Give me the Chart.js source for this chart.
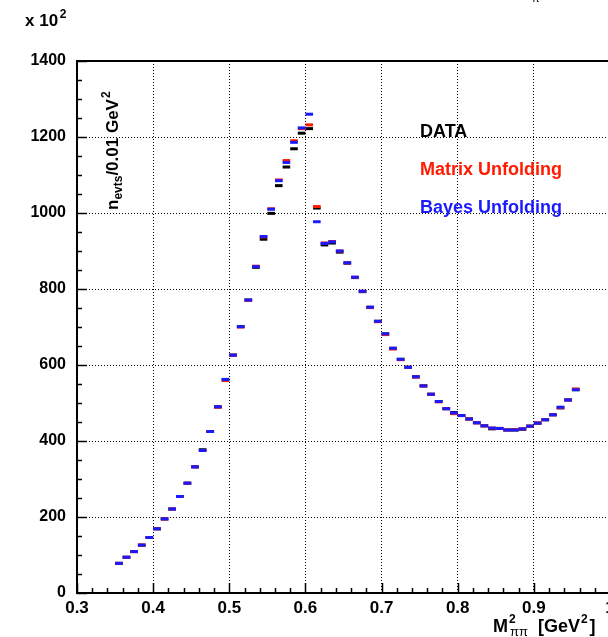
<!DOCTYPE html>
<html><head><meta charset="utf-8">
<script src="https://cdn.jsdelivr.net/npm/chart.js@4.4.0/dist/chart.umd.min.js"></script>
<style>
html,body{margin:0;padding:0;background:#fff;overflow:hidden;width:608px;height:637px}
canvas{display:block}
</style></head>
<body>
<canvas id="c" width="620" height="637" style="width:620px;height:637px"></canvas>
<script>
// ---- data (values in units of 10^2 events per 0.01 GeV^2) ----
const binCenters = [0.355,0.365,0.375,0.385,0.395,0.405,0.415,0.425,0.435,0.445,
  0.455,0.465,0.475,0.485,0.495,0.505,0.515,0.525,0.535,0.545,
  0.555,0.565,0.575,0.585,0.595,0.605,0.615,0.625,0.635,0.645,
  0.655,0.665,0.675,0.685,0.695,0.705,0.715,0.725,0.735,0.745,
  0.755,0.765,0.775,0.785,0.795,0.805,0.815,0.825,0.835,0.845,
  0.855,0.865,0.875,0.885,0.895,0.905,0.915,0.925,0.935,0.945,0.955];
const dataValues = [78,94,109,126,146,169,195,221,254,289,
  332,377,425,490,562,626,701,771,857,931,
  999,1072,1121,1169,1210,1222,1013,916,921,897,
  868,830,793,752,715,682,644,615,594,569,
  545,523,504,485,475,467,458,448,440,432,
  433,429,429,431,439,447,456,469,487,508,535];
const matrixValues = [78,94,109,126,146,169,195,221,254,289,
  332,375,425,489,559,626,700,770,860,937,
  1011,1087,1138,1190,1222,1232,1017,921,925,900,
  869,831,794,751,714,680,642,614,594,568,
  545,523,503,485,472,467,458,448,440,434,
  433,429,430,432,439,448,456,469,488,508,537];
const bayesValues = [78,94,109,126,146,169,195,221,254,289,
  332,375,425,490,562,626,701,771,859,938,
  1010,1085,1133,1186,1224,1260,977,920,924,900,
  869,831,794,752,715,682,644,615,594,569,
  545,523,504,485,474,467,458,448,440,434,
  433,429,429,432,439,447,456,469,489,508,535];
const xTickValues = [0.3,0.4,0.5,0.6,0.7,0.8,0.9,1.0];
const xTickLabels = ['0.3','0.4','0.5','0.6','0.7','0.8','0.9','1'];
const yTickValues = [0,200,400,600,800,1000,1200,1400];
const yTickLabels = ['0','200','400','600','800','1000','1200','1400'];
const seriesNames = ['DATA','Matrix Unfolding','Bayes Unfolding'];
const seriesColors = ['#000000','#ff1a00','#1a1aff'];
const binHalfWidth = 0.005;

const FONT = 'Liberation Sans, Arial, Helvetica, sans-serif';

function pts(vals){ return binCenters.map((x,i)=>({x:x,y:vals[i]})); }
function halfBinPx(ctx){
  const s = ctx.chart.scales.x;
  return Math.abs(s.getPixelForValue(binHalfWidth) - s.getPixelForValue(0));
}
function mkSet(vals, idx, order){
  return {
    label: seriesNames[idx], data: pts(vals),
    showLine:false, pointStyle:'line',
    pointRadius: halfBinPx, pointHoverRadius: halfBinPx,
    pointBorderWidth: 3, pointBorderColor: seriesColors[idx],
    pointBackgroundColor: seriesColors[idx], order: order
  };
}

const rootPlugin = {
  id:'rootDecor',
  afterDatasetsDraw(chart){
    const c = chart.ctx, a = chart.chartArea, xs = chart.scales.x, ys = chart.scales.y;
    c.save();
    c.strokeStyle = '#000';
    // inward ticks
    c.lineWidth = 1.5;
    c.beginPath();
    for (let k=0;k<=35;k++){
      const v = 0.3 + k*0.02;
      const px = Math.round(xs.getPixelForValue(v))+0.5;
      const len = (k%5===0) ? 10 : 5;
      c.moveTo(px, a.bottom); c.lineTo(px, a.bottom-len);
    }
    for (let k=0;k<=28;k++){
      const v = k*50;
      const py = Math.round(ys.getPixelForValue(v))+0.5;
      const len = (k%4===0) ? 10 : 5;
      c.moveTo(a.left, py); c.lineTo(a.left+len, py);
    }
    c.stroke();
    // frame
    c.lineWidth = 2;
    c.beginPath();
    c.moveTo(a.left, a.top); c.lineTo(a.right, a.top);
    c.lineTo(a.right, a.bottom); c.lineTo(a.left, a.bottom); c.closePath();
    c.stroke();
    c.restore();
  },
  afterDraw(chart){
    const c = chart.ctx;
    c.save();
    c.textBaseline = 'alphabetic';
    c.textAlign = 'left';
    // clipped fragment of a title above the frame
    c.fillStyle = '#000';
    c.font = '11px ' + FONT;
    c.fillText('\u03c0', 532, 2);
    // x 10^2
    c.font = 'bold 17px ' + FONT;
    c.fillText('x 10', 25, 26);
    let w = c.measureText('x 10 ').width;
    c.font = 'bold 12px ' + FONT;
    c.fillText('2', 25 + w - 3, 18);
    // legend-like labels
    c.font = 'bold 18px ' + FONT;
    c.fillStyle = seriesColors[0]; c.fillText(seriesNames[0], 420, 137);
    c.fillStyle = seriesColors[1]; c.fillText(seriesNames[1], 420, 175);
    c.fillStyle = seriesColors[2]; c.fillText(seriesNames[2], 420, 213);
    // x title: M^2_ππ [GeV^2]
    c.fillStyle = '#000';
    let x = 493;
    const yb = 632;
    c.font = 'bold 18px ' + FONT; c.fillText('M', x, yb); x += c.measureText('M').width + 1;
    c.font = 'bold 12px ' + FONT; c.fillText('2', x, yb - 9);
    c.font = '13px ' + FONT; c.fillText('\u03c0\u03c0', x + 1, yb + 4); x += c.measureText('\u03c0\u03c0').width + 11;
    c.font = 'bold 18px ' + FONT; c.fillText('[GeV', x, yb); x += c.measureText('[GeV').width + 1;
    c.font = 'bold 12px ' + FONT; c.fillText('2', x, yb - 9); x += c.measureText('2').width + 2;
    c.font = 'bold 18px ' + FONT; c.fillText(']', x, yb);
    // y title rotated
    c.translate(118, 210);
    c.rotate(-Math.PI/2);
    let t = 0;
    c.font = 'bold 17px ' + FONT; c.fillText('n', t, 0); t += c.measureText('n').width;
    c.font = 'bold 12px ' + FONT; c.fillText('evts', t, 4); t += c.measureText('evts').width;
    c.font = 'bold 17px ' + FONT; c.fillText('/0.01 GeV', t, 0); t += c.measureText('/0.01 GeV').width + 1;
    c.font = 'bold 12px ' + FONT; c.fillText('2', t, -8);
    c.restore();
  }
};

new Chart(document.getElementById('c'), {
  type:'scatter',
  data:{ datasets:[ mkSet(bayesValues,2,0), mkSet(matrixValues,1,1), mkSet(dataValues,0,2) ] },
  options:{
    responsive:false, animation:false, events:[],
    layout:{ padding:{ top:61, right:10, left:0, bottom:0 } },
    plugins:{ legend:{display:false}, tooltip:{enabled:false} },
    scales:{
      x:{
        type:'linear', min:0.3, max:1.0,
        afterBuildTicks: s => { s.ticks = xTickValues.map(v=>({value:v})); },
        afterFit: s => { s.height = 44; },
        ticks:{
          autoSkip:false, maxRotation:0, padding:5, color:'#000',
          font:{ family:FONT, weight:'bold', size:17 },
          callback:(v)=>{ const i = xTickValues.findIndex(t=>Math.abs(t-v)<1e-9); return i>=0 ? xTickLabels[i] : ''; }
        },
        grid:{
          drawTicks:false, lineWidth:1,
          color: ctx => (ctx.tick && (Math.abs(ctx.tick.value-0.3)<1e-9 || Math.abs(ctx.tick.value-1.0)<1e-9)) ? 'rgba(0,0,0,0)' : '#000'
        },
        border:{ display:false, dash:[1,2] }
      },
      y:{
        type:'linear', min:0, max:1400,
        afterBuildTicks: s => { s.ticks = yTickValues.map(v=>({value:v})); },
        afterFit: s => { s.width = 77; },
        ticks:{
          padding:11, color:'#000',
          font:{ family:FONT, weight:'bold', size:16 },
          callback:(v)=>{ const i = yTickValues.indexOf(v); return i>=0 ? yTickLabels[i] : ''; }
        },
        grid:{
          drawTicks:false, lineWidth:1,
          color: ctx => (ctx.tick && (ctx.tick.value===0 || ctx.tick.value===1400)) ? 'rgba(0,0,0,0)' : '#000'
        },
        border:{ display:false, dash:[1,2] }
      }
    }
  },
  plugins:[rootPlugin]
});
</script>
</body></html>
